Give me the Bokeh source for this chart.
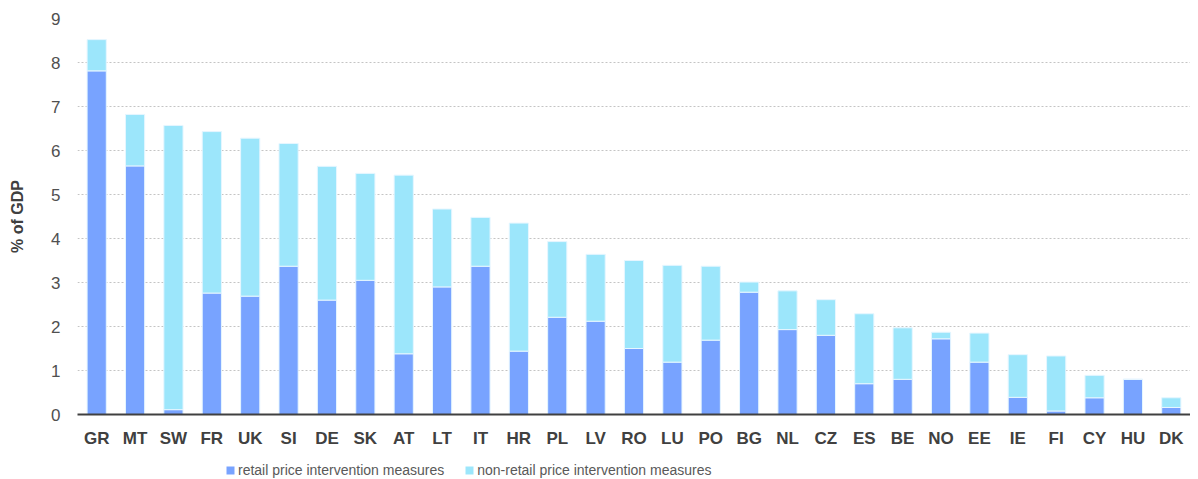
from bokeh.plotting import figure
from bokeh.layouts import column
from bokeh.models import ColumnDataSource, Legend, LegendItem, SingleIntervalTicker, Range1d
from bokeh.embed import file_html
from bokeh.resources import INLINE

countries = ["GR", "MT", "SW", "FR", "UK", "SI", "DE", "SK", "AT", "LT", "IT", "HR", "PL", "LV",
             "RO", "LU", "PO", "BG", "NL", "CZ", "ES", "BE", "NO", "EE", "IE", "FI", "CY", "HU", "DK"]
retail = [7.81, 5.65, 0.11, 2.76, 2.69, 3.37, 2.60, 3.05, 1.38, 2.90, 3.37, 1.44, 2.21, 2.12,
          1.50, 1.19, 1.69, 2.78, 1.93, 1.80, 0.70, 0.80, 1.72, 1.19, 0.39, 0.08, 0.38, 0.80, 0.16]
total = [8.52, 6.82, 6.57, 6.43, 6.28, 6.16, 5.64, 5.48, 5.44, 4.67, 4.48, 4.35, 3.93, 3.64,
         3.50, 3.39, 3.37, 3.01, 2.81, 2.61, 2.29, 1.97, 1.87, 1.85, 1.36, 1.33, 0.89, 0.80, 0.38]
non_retail = [round(t - r, 2) for t, r in zip(total, retail)]

series = ["retail", "non_retail"]
labels = ["retail price intervention measures", "non-retail price intervention measures"]
colors = ["#78A3FF", "#9CE6FB"]
edge = "#E6F6FF"

src = ColumnDataSource(dict(country=countries, retail=retail, non_retail=non_retail))

p = figure(x_range=countries, y_range=(0, 9), width=1190, height=455,
           output_backend="svg", toolbar_location=None,
           min_border_left=77, min_border_right=0, min_border_top=18, min_border_bottom=41)

rs = p.vbar_stack(series, x="country", width=0.5, source=src, color=colors,
                  line_color=edge, line_width=1)

p.outline_line_color = None
p.xgrid.grid_line_color = None
p.ygrid.grid_line_color = "#C4C4C4"
p.ygrid.grid_line_dash = "2 2"
p.ygrid.grid_line_width = 1

p.yaxis.ticker = SingleIntervalTicker(interval=1)
p.yaxis.axis_line_color = None
p.yaxis.major_tick_line_color = None
p.yaxis.minor_tick_line_color = None
p.yaxis.major_label_text_font = "Liberation Sans"
p.yaxis.major_label_text_font_size = "17px"
p.yaxis.major_label_text_color = "#505050"
p.yaxis.major_label_standoff = 11
p.yaxis.axis_label = "% of GDP"
p.yaxis.axis_label_text_font = "Liberation Sans"
p.yaxis.axis_label_text_font_size = "16px"
p.yaxis.axis_label_text_font_style = "bold"
p.yaxis.axis_label_text_color = "#404040"
p.yaxis.axis_label_standoff = 22

p.xaxis.axis_line_color = "#404040"
p.xaxis.axis_line_width = 2
p.xaxis.major_tick_line_color = None
p.xaxis.minor_tick_line_color = None
p.xaxis.major_label_text_font = "Liberation Sans"
p.xaxis.major_label_text_font_size = "17px"
p.xaxis.major_label_text_font_style = "bold"
p.xaxis.major_label_text_color = "#404040"
p.xaxis.major_label_standoff = 8

# legend strip below the chart
pl = figure(width=1190, height=23, output_backend="svg", toolbar_location=None,
            x_range=Range1d(0, 1), y_range=Range1d(0, 1),
            min_border_left=0, min_border_right=0, min_border_top=0, min_border_bottom=0)
pl.axis.visible = False
pl.grid.visible = False
pl.outline_line_color = None
dummies = [pl.vbar(x=[-10], top=[-10], bottom=[-11], width=0.5, fill_color=colors[i], line_color=None)
           for i in range(2)]

legend = Legend(items=[LegendItem(label=labels[i], renderers=[dummies[i]]) for i in range(2)],
                orientation="horizontal", location=(148, 0),
                label_text_font="Liberation Sans",
                label_text_font_size="14px", label_text_color="#595959",
                glyph_width=10, glyph_height=10, label_standoff=3, spacing=20,
                border_line_color=None, background_fill_alpha=0, padding=1, margin=0)
pl.add_layout(legend, "center")

layout = column(p, pl, spacing=0)
open("out.html", "w").write(file_html(layout, INLINE))
